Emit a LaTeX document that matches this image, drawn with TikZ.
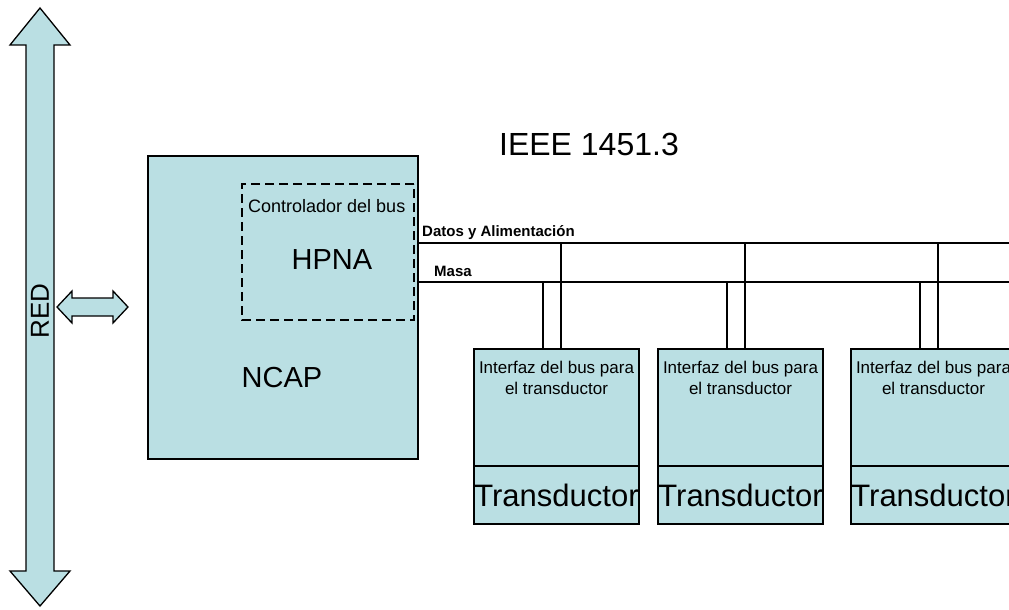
\documentclass[tikz,border=0pt]{standalone}
\usepackage{fontspec}
\setmainfont{Liberation Sans}
\definecolor{boxfill}{RGB}{186,223,227}
\newcommand{\fs}[1]{\fontsize{#1}{#1}\selectfont}
\begin{document}
\begin{tikzpicture}[x=1pt,y=-1pt,
  blk/.style={draw=black, line width=2pt, fill=boxfill, inner sep=0pt, anchor=north west},
  txt/.style={inner sep=0pt},
  bus/.style={line width=2pt},
  tap/.style={line width=2.6pt},
  fatarrow/.style={draw=black, line width=1.3pt, fill=boxfill, line join=miter}]
\useasboundingbox (0,0) rectangle (1009,610);
\clip (0,0) rectangle (1009,610);

% network backbone
\draw[fatarrow] (40,8) -- (70,45) -- (54,45) -- (54,571) -- (70,571) -- (40,606)
  -- (10,571) -- (26,571) -- (26,45) -- (10,45) -- cycle;
\node[txt, rotate=90, font=\fs{26}] (red) at (40,311) {RED};

% link between network and NCAP
\draw[fatarrow] (57,307) -- (72,291) -- (72,298) -- (113,298) -- (113,291) -- (128,307)
  -- (113,323) -- (113,316) -- (72,316) -- (72,323) -- cycle;

\node[txt, font=\fs{32}] (title) at (589,144) {IEEE 1451.3};

% NCAP with its bus controller
\node[blk, minimum width=270pt, minimum height=303pt] (ncap) at (147,155) {};
\draw[dashed, line width=1.4pt, dash pattern=on 9pt off 5pt]
  (414,184) -- (242,184) -- (242,320) -- (414,320) -- cycle;
\node[txt, font=\fs{18}, anchor=base west] (ctrl) at (248,212) {Controlador del bus};
\node[txt, font=\fs{29}] (hpna) at (332,260) {HPNA};
\node[txt, font=\fs{29}] (ncapl) at (282,378) {NCAP};

% bus lines
\coordinate (dend) at (1012,243);
\coordinate (mend) at (1012,282);
\draw[bus] (ncap.east |- dend) -- (dend);
\draw[bus] (ncap.east |- mend) -- (mend);
\node[txt, font=\bfseries\fs{15}, anchor=base west] (datos) at (422,236) {Datos y Alimentación};
\node[txt, font=\bfseries\fs{15}, anchor=base west] (masa) at (434,276) {Masa};

% transducer modules
\foreach \i/\x in {1/473, 2/657, 3/850}{
  \node[blk, minimum width=165pt, minimum height=117pt] (if\i) at (\x,348) {};
  \node[blk, minimum width=165pt, minimum height=58pt] (td\i) at (\x,465) {};
  \node[txt, font=\fs{17}, align=center, anchor=north] (ift\i) at ([yshift=-13pt]if\i.north)
    {Interfaz del bus para\\[4pt]el transductor};
  \node[txt, font=\fs{31}] (tdt\i) at (td\i.center) {Transductor};
  \draw[tap] ([xshift=88pt]if\i.north west) -- ([xshift=88pt]if\i.north west |- dend);
  \draw[tap] ([xshift=70pt]if\i.north west) -- ([xshift=70pt]if\i.north west |- mend);
}
\end{tikzpicture}
\end{document}
